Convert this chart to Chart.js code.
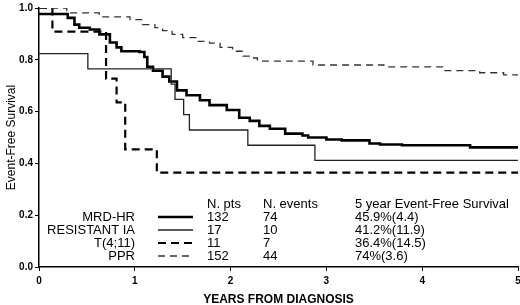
<!DOCTYPE html>
<html>
<head>
<meta charset="utf-8">
<script src="https://cdn.jsdelivr.net/npm/chart.js@4"></script>
<style>
  html, body { margin: 0; padding: 0; background: #fff; }
  #wrap { width: 520px; height: 305px; position: relative; }
</style>
</head>
<body>
<div id="wrap"><canvas id="efs-chart"></canvas></div>
<script>
// Kaplan-Meier steps (time in years, survival fraction)
var mrdTimes = [0, 0.30, 0.37, 0.42, 0.53, 0.63, 0.74, 0.81, 0.86, 1.05, 1.10, 1.13, 1.19, 1.29, 1.36, 1.44, 1.54, 1.68, 1.78, 1.96, 2.09, 2.20, 2.30, 2.41, 2.57, 2.75, 2.81, 3.00, 3.16, 3.45, 3.56, 3.79, 4.50, 5];
var mrdSurv  = [0.977, 0.962, 0.936, 0.924, 0.917, 0.898, 0.867, 0.848, 0.833, 0.830, 0.811, 0.773, 0.758, 0.735, 0.716, 0.682, 0.663, 0.644, 0.625, 0.606, 0.576, 0.564, 0.545, 0.534, 0.515, 0.508, 0.500, 0.492, 0.489, 0.477, 0.473, 0.470, 0.462, 0.462];

var resTimes = [0, 0.51, 1.38, 1.42, 1.51, 1.57, 2.18, 2.88, 5];
var resSurv  = [0.8235, 0.765, 0.706, 0.647, 0.588, 0.529, 0.470, 0.412, 0.412];

var t411Times = [0, 0.14, 0.70, 0.81, 0.90, 1.23, 5];
var t411Surv  = [1.0, 0.909, 0.727, 0.636, 0.4545, 0.364, 0.364];

var pprTimes = [0, 0.29, 0.63, 0.95, 1.08, 1.21, 1.29, 1.39, 1.50, 1.65, 1.78, 1.89, 2.02, 2.13, 2.23, 2.28, 2.86, 3.60, 4.22, 4.60, 4.85, 5];
var pprSurv  = [1.0, 0.981, 0.966, 0.955, 0.936, 0.924, 0.913, 0.898, 0.886, 0.871, 0.864, 0.848, 0.833, 0.814, 0.807, 0.795, 0.780, 0.773, 0.758, 0.750, 0.742, 0.742];

var groupNames = ['MRD-HR', 'RESISTANT IA', 'T(4;11)', 'PPR'];
var groupPts = ['132', '17', '11', '152'];
var groupEvents = ['74', '10', '7', '44'];
var groupEfs = ['45.9%(4.4)', '41.2%(11.9)', '36.4%(14.5)', '74%(3.6)'];

var xTicks = [0, 1, 2, 3, 4, 5];
var yTicks = [0, 0.2, 0.4, 0.6, 0.8, 1.0];

var fontFam = '"Liberation Sans", Arial, sans-serif';

function toPoints(times, surv) {
    var pts = [];
    for (var i = 0; i < times.length; i++) {
        pts.push({ x: times[i], y: surv[i] });
    }
    return pts;
}

// line styles, same order as groupNames
var lineStyles = [
    { color: '#000', width: 2.6, dash: [] },
    { color: '#222', width: 1.3, dash: [] },
    { color: '#000', width: 2.2, dash: [8, 5] },
    { color: '#333', width: 1.3, dash: [7, 5] }
];

// legend table drawn under the curves
var legendTable = {
    id: 'legendTable',
    afterDraw: function (chart) {
        var ctx = chart.ctx;
        ctx.save();
        ctx.fillStyle = '#000';
        ctx.font = '13px ' + fontFam;
        ctx.textBaseline = 'middle';

        ctx.textAlign = 'left';
        ctx.fillText('N. pts', 207, 204);
        ctx.fillText('N. events', 263, 204);
        ctx.fillText('5 year Event-Free Survival', 355, 204);

        for (var i = 0; i < groupNames.length; i++) {
            var y = 217 + i * 13;
            ctx.textAlign = 'right';
            ctx.fillText(groupNames[i], 135, y);
            ctx.textAlign = 'left';
            ctx.fillText(groupPts[i], 207, y);
            ctx.fillText(groupEvents[i], 263, y);
            ctx.fillText(groupEfs[i], 355, y);

            var st = lineStyles[i];
            ctx.beginPath();
            ctx.strokeStyle = st.color;
            ctx.lineWidth = st.width;
            ctx.setLineDash(st.dash);
            ctx.moveTo(158, y);
            ctx.lineTo(193, y);
            ctx.stroke();
        }
        ctx.restore();
    }
};

var seriesTimes = [mrdTimes, resTimes, t411Times, pprTimes];
var seriesSurv = [mrdSurv, resSurv, t411Surv, pprSurv];
var datasets = [];
for (var i = seriesTimes.length - 1; i >= 0; i--) {
    datasets.push({
        label: groupNames[i],
        data: toPoints(seriesTimes[i], seriesSurv[i]),
        stepped: true,
        borderColor: lineStyles[i].color,
        borderWidth: lineStyles[i].width,
        borderDash: lineStyles[i].dash,
        pointRadius: 0,
        fill: false,
        tension: 0
    });
}

var ctx = document.getElementById('efs-chart').getContext('2d');
var chart = new Chart(ctx, {
    type: 'line',
    data: { datasets: datasets },
    options: {
        responsive: true,
        maintainAspectRatio: false,
        animation: false,
        layout: { padding: { top: 3, right: 0, left: 0, bottom: 0 } },
        plugins: {
            legend: { display: false },
            tooltip: { enabled: false }
        },
        scales: {
            x: {
                type: 'linear',
                min: 0,
                max: 5,
                afterBuildTicks: function (scale) {
                    scale.ticks = xTicks.map(function (v) { return { value: v }; });
                },
                afterFit: function (scale) {
                    scale.height = 38;
                    scale.paddingLeft = 0;
                    scale.paddingRight = 2;
                },
                ticks: {
                    color: '#000',
                    font: { family: fontFam, size: 10, weight: 'bold' },
                    padding: 4,
                    maxRotation: 0,
                    callback: function (v) { return String(v); }
                },
                grid: { display: true, drawOnChartArea: false, drawTicks: true, tickLength: 4, color: '#000' },
                border: { display: true, color: '#000', width: 1.5 },
                title: {
                    display: true,
                    text: 'YEARS FROM DIAGNOSIS',
                    color: '#000',
                    font: { family: fontFam, size: 12, weight: 'bold' },
                    padding: { top: 0, bottom: -2 }
                }
            },
            y: {
                min: 0,
                max: 1,
                afterBuildTicks: function (scale) {
                    scale.ticks = yTicks.map(function (v) { return { value: v }; });
                },
                afterFit: function (scale) { scale.width = 39; },
                ticks: {
                    color: '#000',
                    font: { family: fontFam, size: 10, weight: 'bold' },
                    padding: 2,
                    callback: function (v) { return Number(v).toFixed(1); }
                },
                grid: { display: true, drawOnChartArea: false, drawTicks: true, tickLength: 4, color: '#000' },
                border: { display: true, color: '#000', width: 1.5 },
                title: {
                    display: true,
                    text: 'Event-Free Survival',
                    color: '#000',
                    font: { family: fontFam, size: 12 },
                    padding: { top: 4, bottom: 0 }
                }
            }
        }
    },
    plugins: [legendTable]
});
</script>
</body>
</html>
